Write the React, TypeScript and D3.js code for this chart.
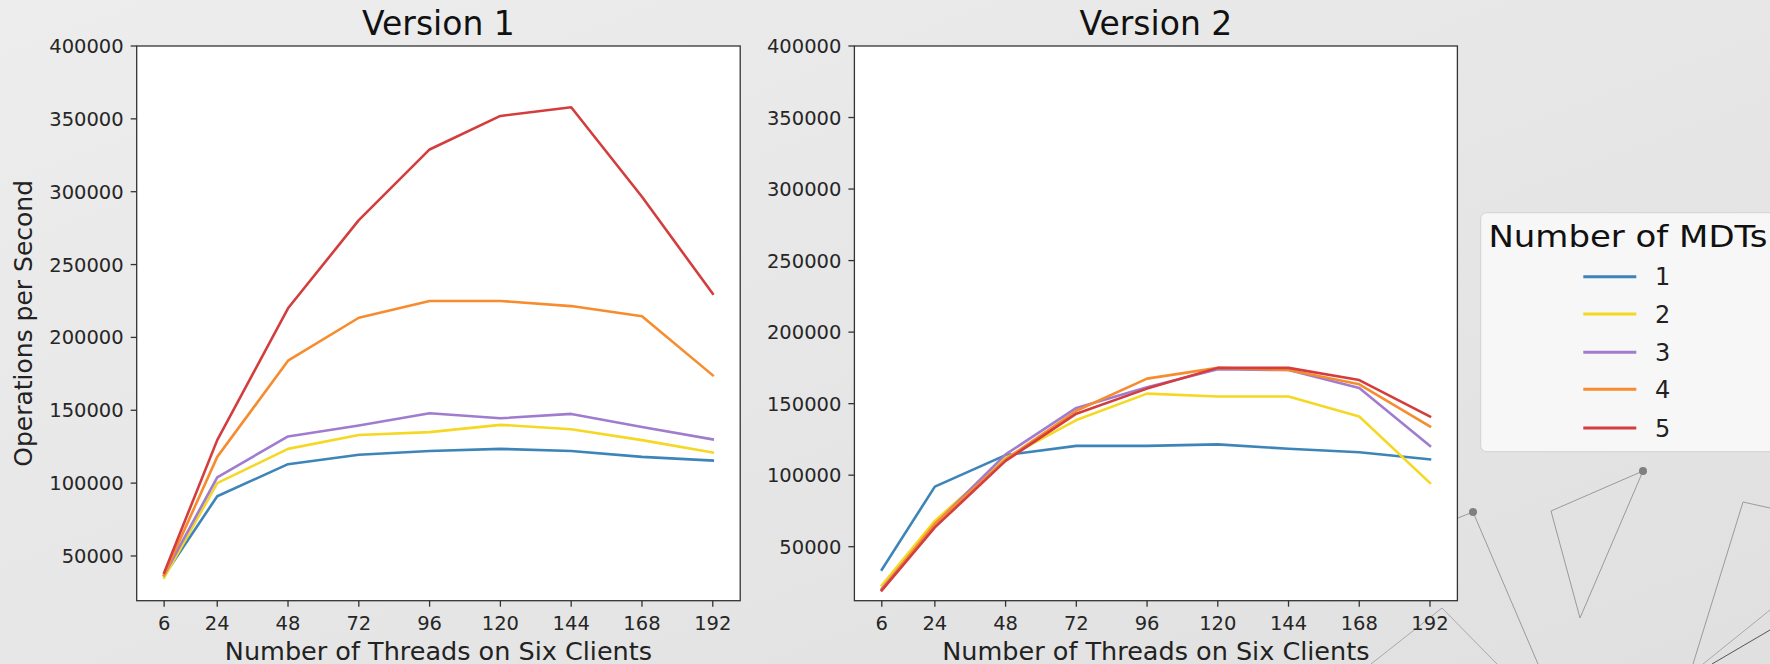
import React from 'react';
import * as d3 from 'd3';

// Thread counts on the x axis
const threads = [6, 24, 48, 72, 96, 120, 144, 168, 192];
const mdtLabels = ['1', '2', '3', '4', '5'];
const seriesColors = ['#3d85b8', '#f5d823', '#a07ccf', '#f68c2e', '#d43d3d'];
const yTicks = [50000, 100000, 150000, 200000, 250000, 300000, 350000, 400000];

// Version 1 throughput, one series per MDT count
const v1Mdt1 = [36500, 91000, 113000, 119500, 122000, 123500, 122000, 118000, 115500];
const v1Mdt2 = [35000, 100000, 123500, 133000, 135000, 140000, 137000, 129500, 121000];
const v1Mdt3 = [37000, 104000, 132000, 139500, 148000, 144500, 147500, 138500, 130000];
const v1Mdt4 = [37000, 118000, 184000, 213500, 225000, 225000, 221500, 214500, 174000];
const v1Mdt5 = [38500, 129500, 220000, 280500, 329000, 352000, 358000, 296500, 230000];

// Version 2 throughput
const v2Mdt1 = [34000, 92000, 114000, 120500, 120500, 121500, 118500, 116000, 111000];
const v2Mdt2 = [23000, 68000, 112000, 138500, 157000, 155000, 155000, 141000, 94500];
const v2Mdt3 = [20500, 65500, 114500, 147000, 161500, 174000, 173500, 161000, 120500];
const v2Mdt4 = [20000, 66000, 111000, 145000, 167500, 175000, 173500, 163500, 134000];
const v2Mdt5 = [19500, 63500, 110000, 143000, 160500, 175000, 175000, 166500, 141000];

const FONT = '"DejaVu Sans", Verdana, sans-serif';

type PanelProps = {
  title: string;
  series: number[][];
  left: number;
  right: number;
  yMin: number;
  showYLabel: boolean;
};

const TOP = 46;
const BOTTOM = 600.7;

function Panel({ title, series, left, right, yMin, showYLabel }: PanelProps) {
  const x = d3.scaleLinear().domain([-3.3, 201.3]).range([left, right]);
  const y = d3.scaleLinear().domain([yMin, 400000]).range([BOTTOM, TOP]);
  const line = d3
    .line<number>()
    .x((_, i) => x(threads[i]))
    .y((d) => y(d));
  const cx = (left + right) / 2;
  return (
    <g>
      <rect x={left} y={TOP} width={right - left} height={BOTTOM - TOP} fill="#ffffff" />
      {series.map((s, i) => (
        <path
          key={i}
          d={line(s) || ''}
          fill="none"
          stroke={seriesColors[i]}
          strokeWidth={2.6}
          strokeLinejoin="round"
          strokeLinecap="square"
        />
      ))}
      <rect
        x={left}
        y={TOP}
        width={right - left}
        height={BOTTOM - TOP}
        fill="none"
        stroke="#333"
        strokeWidth={1.3}
      />
      {threads.map((t) => (
        <g key={t}>
          <line x1={x(t)} x2={x(t)} y1={BOTTOM} y2={BOTTOM + 6} stroke="#333" strokeWidth={1.3} />
          <text
            x={x(t)}
            y={629.5}
            textAnchor="middle"
            fontFamily={FONT}
            fontSize={19.5}
            fill="#262626"
          >
            {t}
          </text>
        </g>
      ))}
      {yTicks.map((v) => (
        <g key={v}>
          <line x1={left - 6} x2={left} y1={y(v)} y2={y(v)} stroke="#333" strokeWidth={1.3} />
          <text
            x={left - 13}
            y={y(v) + 7}
            textAnchor="end"
            fontFamily={FONT}
            fontSize={19.5}
            fill="#262626"
          >
            {v}
          </text>
        </g>
      ))}
      <text x={cx} y={35} textAnchor="middle" fontFamily={FONT} fontSize={33} fill="#111">
        {title}
      </text>
      <text x={cx} y={659.5} textAnchor="middle" fontFamily={FONT} fontSize={25.5} fill="#222">
        Number of Threads on Six Clients
      </text>
      {showYLabel && (
        <text
          transform={`translate(31.5, ${(TOP + BOTTOM) / 2}) rotate(-90)`}
          textAnchor="middle"
          fontFamily={FONT}
          fontSize={25}
          fill="#222"
        >
          Operations per Second
        </text>
      )}
    </g>
  );
}

// Backdrop ornaments: thin connector lines and nodes
const ornamentLines: [number, number, number, number, string][] = [
  [1473, 512, 1380, 549, '#9a9a9a'],
  [1473, 512, 1538, 664, '#9a9a9a'],
  [1643, 471, 1551, 511, '#9a9a9a'],
  [1551, 511, 1580, 618, '#9a9a9a'],
  [1580, 618, 1643, 471, '#9a9a9a'],
  [1743, 502, 1693, 664, '#9a9a9a'],
  [1743, 502, 1770, 508, '#9a9a9a'],
  [1703, 664, 1770, 610, '#a8a8a8'],
  [1712, 664, 1770, 630, '#555'],
  [1442, 608, 1371, 664, '#a8a8a8'],
  [1442, 608, 1497, 664, '#a8a8a8'],
];
const ornamentDots: [number, number][] = [
  [1473, 512],
  [1643, 471],
];

export default function App() {
  const legendRows = [276.7, 314, 352.3, 389.3, 428];
  return (
    <svg
      width={1770}
      height={664}
      style={{ position: 'absolute', left: 0, top: 0, display: 'block' }}
    >
      <defs>
        <linearGradient id="bg" x1="0" y1="0" x2="1" y2="1">
          <stop offset="0" stopColor="#ededed" />
          <stop offset="1" stopColor="#e0e0e0" />
        </linearGradient>
      </defs>
      <rect width={1770} height={664} fill="url(#bg)" />
      {ornamentLines.map(([x1, y1, x2, y2, c], i) => (
        <line key={i} x1={x1} y1={y1} x2={x2} y2={y2} stroke={c} strokeWidth={1} />
      ))}
      {ornamentDots.map(([cx, cy], i) => (
        <circle key={i} cx={cx} cy={cy} r={4} fill="#808080" />
      ))}
      <Panel
        title="Version 1"
        series={[v1Mdt1, v1Mdt2, v1Mdt3, v1Mdt4, v1Mdt5]}
        left={136.7}
        right={740.2}
        yMin={19300}
        showYLabel
      />
      <Panel
        title="Version 2"
        series={[v2Mdt1, v2Mdt2, v2Mdt3, v2Mdt4, v2Mdt5]}
        left={854.4}
        right={1457.4}
        yMin={12250}
        showYLabel={false}
      />
      <g>
        <rect
          x={1480.7}
          y={212.7}
          width={300}
          height={239}
          rx={6}
          fill="#f7f7f7"
          stroke="#d2d2d2"
          strokeWidth={1}
        />
        <text
          x={1627.9}
          y={246.7}
          textAnchor="middle"
          fontFamily={FONT}
          fontSize={31}
          textLength={279}
          lengthAdjust="spacingAndGlyphs"
          fill="#111"
        >
          Number of MDTs
        </text>
        {mdtLabels.map((lab, i) => (
          <g key={lab}>
            <line
              x1={1583.3}
              x2={1636.3}
              y1={legendRows[i]}
              y2={legendRows[i]}
              stroke={seriesColors[i]}
              strokeWidth={3}
            />
            <text
              x={1655}
              y={legendRows[i] + 8.5}
              fontFamily={FONT}
              fontSize={24}
              fill="#222"
            >
              {lab}
            </text>
          </g>
        ))}
      </g>
    </svg>
  );
}
